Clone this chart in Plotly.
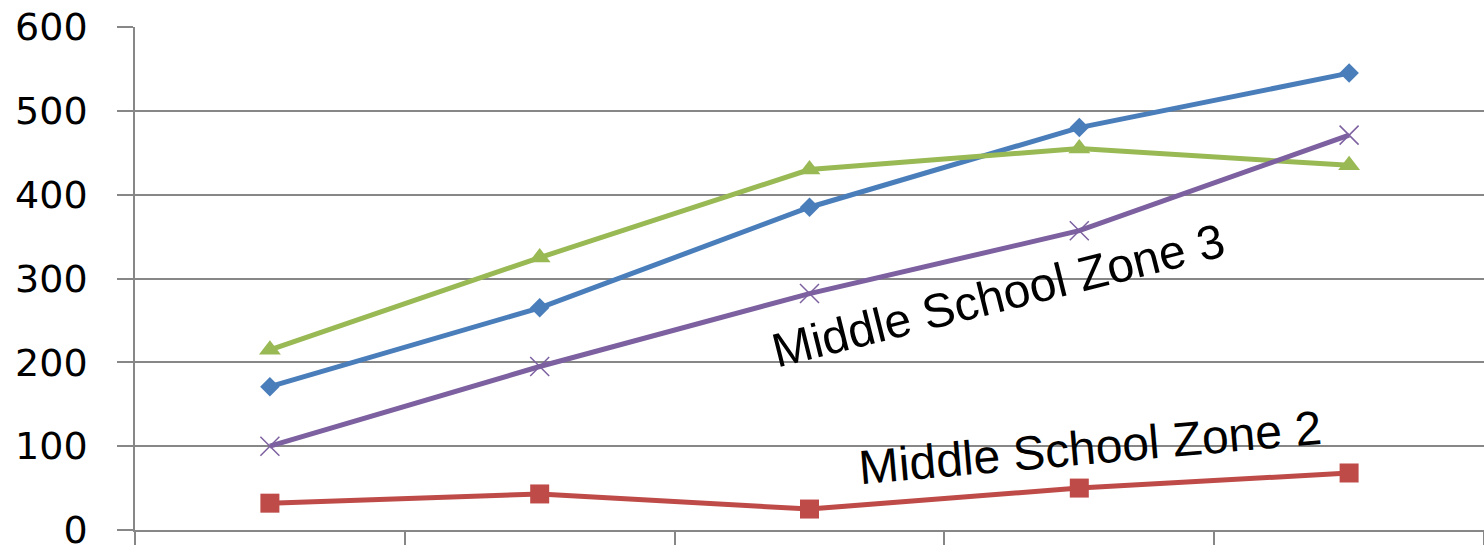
import plotly.graph_objects as go

categories = ["1", "2", "3", "4", "5"]
series_blue = [171, 265, 385, 480, 545]
series_red = [32, 43, 25, 50, 68]
series_green = [215, 325, 430, 455, 435]
series_purple = [100, 195, 282, 357, 471]
y_ticks = [0, 100, 200, 300, 400, 500, 600]

label_zone3 = "Middle School Zone 3"
label_zone2 = "Middle School Zone 2"

BLUE = "#4A7EBB"
RED = "#BE4B48"
GREEN = "#98B954"
PURPLE = "#7D60A0"
GRID = "#878787"

fig = go.Figure()
fig.add_trace(go.Scatter(x=categories, y=series_blue, mode="lines+markers",
                         line=dict(color=BLUE, width=5),
                         marker=dict(symbol="diamond", size=15, color=BLUE),
                         cliponaxis=False))
fig.add_trace(go.Scatter(x=categories, y=series_red, mode="lines+markers",
                         line=dict(color=RED, width=5),
                         marker=dict(symbol="square", size=19, color=RED),
                         cliponaxis=False))
fig.add_trace(go.Scatter(x=categories, y=series_green, mode="lines+markers",
                         line=dict(color=GREEN, width=5),
                         marker=dict(symbol="triangle-up", size=19, color=GREEN),
                         cliponaxis=False))
fig.add_trace(go.Scatter(x=categories, y=series_purple, mode="lines+markers",
                         line=dict(color=PURPLE, width=5),
                         marker=dict(symbol="x-thin-open", size=19, color=PURPLE,
                                     line=dict(color=PURPLE, width=1.5)),
                         cliponaxis=False))

fig.add_annotation(x=2.70, y=280, xref="x", yref="y", text=label_zone3,
                   textangle=-14, showarrow=False,
                   font=dict(family="Liberation Sans, Arial", size=48, color="black"))
fig.add_annotation(x=3.04, y=99, xref="x", yref="y", text=label_zone2,
                   textangle=-5, showarrow=False,
                   font=dict(family="Liberation Sans, Arial", size=48, color="black"))

fig.update_layout(
    width=1484, height=545,
    margin=dict(l=135, r=0, t=27, b=15),
    paper_bgcolor="white", plot_bgcolor="white",
    showlegend=False,
)
fig.update_xaxes(type="category", range=[-0.5, 4.5], tickson="boundaries",
                 showticklabels=False, ticks="outside", ticklen=15,
                 tickcolor=GRID, tickwidth=1.5, showgrid=False, automargin=False,
                 showline=True, linecolor=GRID, linewidth=1.5, zeroline=False)
fig.update_yaxes(range=[0, 600], tickvals=y_ticks, ticks="outside", ticklen=16,
                 tickcolor=GRID, tickwidth=1.5, showgrid=True, gridcolor=GRID,
                 gridwidth=1.5, showline=True, linecolor=GRID, linewidth=1.5,
                 zeroline=False, ticklabelstandoff=22, ticklabeloverflow="allow",
                 automargin=False,
                 tickfont=dict(family="DejaVu Sans", size=38, color="black"))

fig.write_html("out.html", config={"displayModeBar": False},
               post_script="document.body.style.margin='0';document.body.style.overflow='hidden';")
